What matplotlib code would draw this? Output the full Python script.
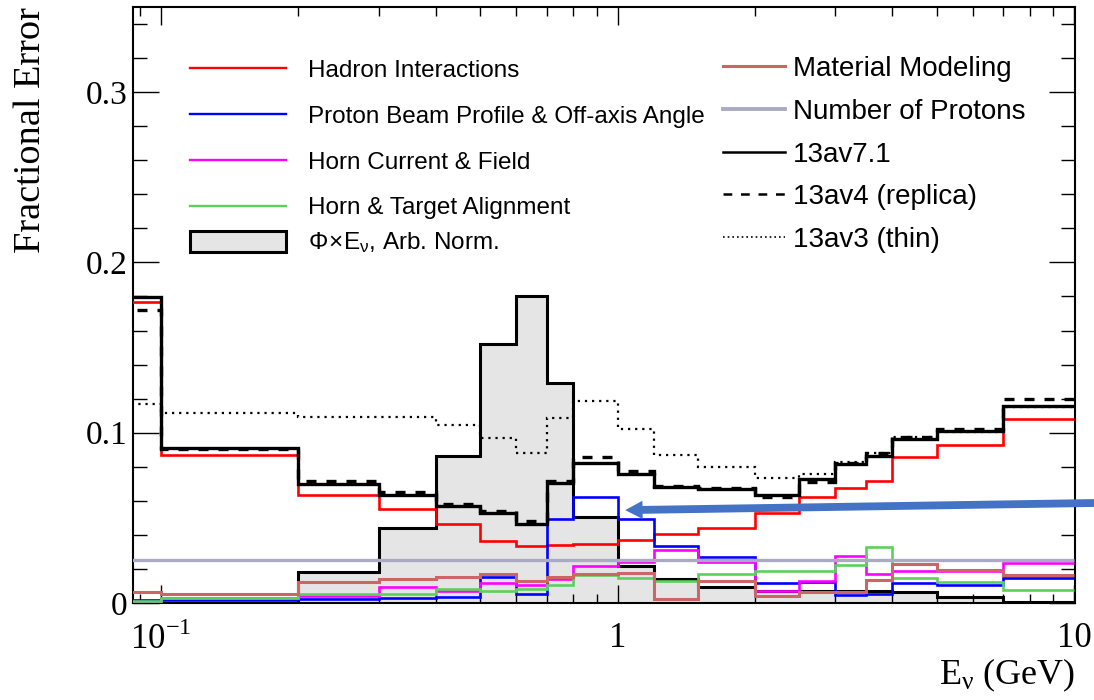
import matplotlib
matplotlib.use("Agg")
import matplotlib.pyplot as plt
from matplotlib.lines import Line2D
from matplotlib.patches import Patch
from matplotlib.ticker import FixedLocator, LogLocator, MultipleLocator, NullFormatter

plt.rcParams['font.family'] = ['Liberation Serif', 'DejaVu Serif']

# bin edges (GeV)
edges = [0.08, 0.1, 0.2, 0.3, 0.4, 0.5, 0.6, 0.7, 0.8, 1.0, 1.2, 1.5,
         2.0, 2.5, 3.0, 3.5, 4.0, 5.0, 7.0, 10.0]

# flux x E, arbitrary normalisation
flux = [0.0, 0.0, 0.0182, 0.0443, 0.0863, 0.1522, 0.1804, 0.1290, 0.0502, 0.0216,
        0.0143, 0.0094, 0.0070, 0.0068, 0.0069, 0.0069, 0.0065, 0.0035, 0.0008]

# fractional errors per source
hadron = [0.1767, 0.0869, 0.0634, 0.0549, 0.0461, 0.0363, 0.0334, 0.0339, 0.0345, 0.0369,
          0.0408, 0.0443, 0.0526, 0.0624, 0.0677, 0.0716, 0.0855, 0.0926, 0.1082]
beam = [0.0020, 0.0015, 0.0026, 0.0032, 0.0035, 0.0153, 0.0055, 0.0492, 0.0620, 0.0496,
        0.0333, 0.0271, 0.0120, 0.0125, 0.0045, 0.0055, 0.0120, 0.0108, 0.0145]
horn_current = [0.0006, 0.0032, 0.0040, 0.0094, 0.0071, 0.0120, 0.0104, 0.0138, 0.0220, 0.0238,
                0.0310, 0.0238, 0.0068, 0.0128, 0.0278, 0.0171, 0.0190, 0.0188, 0.0234]
alignment = [0.0010, 0.0030, 0.0051, 0.0051, 0.0082, 0.0069, 0.0085, 0.0108, 0.0165, 0.0147,
             0.0128, 0.0173, 0.0186, 0.0186, 0.0222, 0.0330, 0.0149, 0.0124, 0.0079]
material = [0.0065, 0.0051, 0.0124, 0.0139, 0.0152, 0.0169, 0.0129, 0.0153, 0.0169, 0.0176,
            0.0026, 0.0129, 0.0043, 0.0065, 0.0065, 0.0135, 0.0228, 0.0192, 0.0163]
protons = [0.0255, 0.0255, 0.0255, 0.0255, 0.0255, 0.0255, 0.0255, 0.0255, 0.0255, 0.0255,
           0.0255, 0.0255, 0.0255, 0.0255, 0.0255, 0.0255, 0.0255, 0.0255, 0.0255]

# total error for the three tunings
total_v71 = [0.1796, 0.0908, 0.0698, 0.0634, 0.0569, 0.0530, 0.0463, 0.0705, 0.0824, 0.0755,
             0.0682, 0.0667, 0.0632, 0.0726, 0.0814, 0.0863, 0.0961, 0.1012, 0.1159]
total_v4 = [0.1718, 0.0905, 0.0716, 0.0651, 0.0580, 0.0541, 0.0479, 0.0716, 0.0859, 0.0776,
            0.0688, 0.0675, 0.0625, 0.0712, 0.0823, 0.0879, 0.0973, 0.1020, 0.1198]
total_v3 = [0.1169, 0.1118, 0.1094, 0.1090, 0.1047, 0.0970, 0.0879, 0.1085, 0.1186, 0.1022,
            0.0869, 0.0800, 0.0733, 0.0755, 0.0828, 0.0882, 0.0973, 0.1006, 0.1153]

left_labels = ["Hadron Interactions", "Proton Beam Profile & Off-axis Angle",
               "Horn Current & Field", "Horn & Target Alignment"]
flux_label = r"$\mathregular{\Phi\!\times\!E_{\nu}}$, Arb. Norm."
right_labels = ["Material Modeling", "Number of Protons", "13av7.1",
                "13av4 (replica)", "13av3 (thin)"]

RED, BLUE, MAG, GREEN = '#ff0000', '#0000ff', '#ff00ff', '#5cd05c'
SALMON, LAV, FILL = '#cc6666', '#aaaac4', '#e5e5e5'

fig = plt.figure(figsize=(10.94, 7.0), dpi=100)
ax = fig.add_axes([0.1216, 0.1386, 0.8610, 0.8514])

ax.stairs(flux, edges, fill=True, color=FILL, zorder=1)
ax.stairs(flux, edges, baseline=0, color='black', lw=2.2, zorder=2)

ax.stairs(hadron, edges, baseline=None, color=RED, lw=1.9, zorder=3)
ax.stairs(beam, edges, baseline=None, color=BLUE, lw=1.9, zorder=3)
ax.stairs(horn_current, edges, baseline=None, color=MAG, lw=1.9, zorder=3)
ax.stairs(alignment, edges, baseline=None, color=GREEN, lw=1.9, zorder=3)
ax.stairs(material, edges, baseline=None, color=SALMON, lw=2.2, zorder=3)
ax.stairs(protons, edges, baseline=None, color=LAV, lw=2.4, zorder=4)

ax.stairs(total_v3, edges, baseline=None, color='black', lw=1.6, ls=(0, (1, 2.2)), zorder=5)
ax.stairs(total_v4, edges, baseline=None, color='black', lw=2.4, ls=(0, (3, 3)), zorder=5)
ax.stairs(total_v71, edges, baseline=None, color='black', lw=2.4, zorder=6)

ax.set_xscale('log')
ax.set_xlim(0.0868, 10.05)
ax.set_ylim(0, 0.35)

ax.xaxis.set_major_locator(FixedLocator([0.1, 1, 10]))
ax.set_xticklabels([r'10$^{\mathregular{-1}}$', '1', '10'])
ax.xaxis.set_minor_locator(LogLocator(base=10, subs=[2, 3, 4, 5, 6, 7, 8, 9]))
ax.xaxis.set_minor_formatter(NullFormatter())
ax.set_yticks([0, 0.1, 0.2, 0.3])
ax.set_yticklabels(['0', '0.1', '0.2', '0.3'])
ax.yaxis.set_minor_locator(MultipleLocator(0.02))

ax.tick_params(which='both', direction='in', top=True, right=True, width=1.0)
ax.tick_params(axis='y', which='major', length=19, labelsize=24, pad=4)
ax.tick_params(axis='y', which='minor', length=10)
ax.tick_params(axis='x', which='major', length=13, labelsize=25, pad=14)
ax.tick_params(axis='x', which='minor', length=6.5)
for s in ax.spines.values():
    s.set_linewidth(1.5)

ax.set_ylabel('Fractional Error', fontsize=27.5, loc='top')
ax.yaxis.set_label_coords(-0.09, 1.0)
ax.set_xlabel(r'$\mathregular{E_{\nu}}$ (GeV)', fontsize=26, loc='right')
ax.xaxis.set_label_coords(1.0, -0.09)

sans = dict(family='Liberation Sans', size=17.5)
h_left = [Line2D([], [], color=RED, lw=1.7), Line2D([], [], color=BLUE, lw=1.7),
          Line2D([], [], color=MAG, lw=1.7), Line2D([], [], color=GREEN, lw=1.7)]
leg1 = ax.legend(h_left, left_labels, loc='upper left', bbox_to_anchor=(0.0605, 0.9113),
                 frameon=False, prop=sans, handlelength=3.95, handletextpad=0.9,
                 labelspacing=0.98, borderpad=0, borderaxespad=0)
ax.add_artist(leg1)

leg_box = ax.legend([Patch(facecolor=FILL, edgecolor='black', lw=2.2)], [flux_label],
                    loc='upper left', bbox_to_anchor=(0.0605, 0.625), frameon=False,
                    prop=sans, handlelength=3.95, handleheight=0.95, handletextpad=0.9,
                    borderpad=0, borderaxespad=0)
ax.add_artist(leg_box)

h_right = [Line2D([], [], color=SALMON, lw=2.2), Line2D([], [], color=LAV, lw=2.8),
           Line2D([], [], color='black', lw=1.8),
           Line2D([], [], color='black', lw=1.8, ls=(0, (3.5, 3.5))),
           Line2D([], [], color='black', lw=1.2, ls=(0, (1, 1.8)))]
ax.legend(h_right, right_labels, loc='upper left', bbox_to_anchor=(0.626, 0.9175),
          frameon=False, prop=dict(family='Liberation Sans', size=20), handlelength=2.23,
          handletextpad=0.3, labelspacing=0.6, borderpad=0, borderaxespad=0)

# arrow pointing at the beam-profile bump near 1 GeV
ax.annotate('', xy=(1.025, 0.0545), xycoords='data', xytext=(1.03, 0.168),
            textcoords='axes fraction', annotation_clip=False, zorder=10,
            arrowprops=dict(arrowstyle='simple,head_length=1.0,head_width=1.05,tail_width=0.45',
                            mutation_scale=12.5, color='#4472c4', lw=0))

fig.savefig('out.png', dpi=100)
